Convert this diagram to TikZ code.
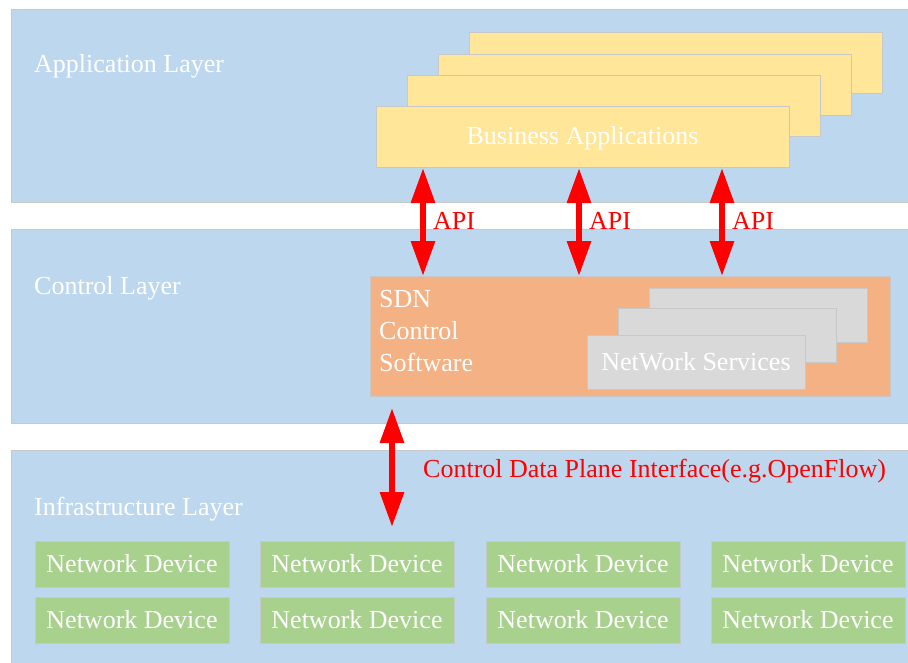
\documentclass[tikz,border=0pt]{standalone}
\usepackage{fontspec}
\setmainfont{Liberation Serif}
\usetikzlibrary{arrows.meta}

\definecolor{bandblue}{HTML}{BDD7EE}
\definecolor{edgegray}{HTML}{C8C8C8}
\definecolor{appyellow}{HTML}{FFE699}
\definecolor{sdnorange}{HTML}{F4B183}
\definecolor{svcgray}{HTML}{D9D9D9}
\definecolor{devgreen}{HTML}{A9D18E}

\tikzset{
  box/.style={draw=edgegray, line width=0.8pt, anchor=north west,
              inner sep=0pt, outer sep=0pt},
  lbl/.style={text=white, font=\fontsize{26}{31}\selectfont},
  plainlbl/.style={lbl, anchor=base west, inner sep=0pt},
  boxtext/.style={lbl, text height=18pt, text depth=2pt, align=center},
  redlbl/.style={text=red, font=\fontsize{26}{31}\selectfont,
                 anchor=base west, inner sep=0pt},
  biarrow/.style={red, line width=6pt,
                  {Triangle[length=35pt,width=23pt]}-{Triangle[length=35pt,width=23pt]}},
}

\begin{document}
\begin{tikzpicture}[x=1pt,y=-1pt]
  \useasboundingbox (0,0) rectangle (908,662);
  \fill[white] (0,0) rectangle (908,662);
  \clip (0,0) rectangle (908,662);

  % three layer bands
  \node[box, fill=bandblue, minimum width=904pt, minimum height=193pt] (app) at (11,9) {};
  \node[box, fill=bandblue, minimum width=904pt, minimum height=193.5pt] (ctl) at (11,229.5) {};
  \node[box, fill=bandblue, minimum width=904pt, minimum height=230pt] (infra) at (11,450) {};

  \node[plainlbl] (applbl) at (34,72.7) {Application Layer};
  \node[plainlbl] (ctllbl) at (34,294) {Control Layer};
  \node[plainlbl] (infralbl) at (34,515) {Infrastructure Layer};

  % stacked business applications
  \node[box, fill=appyellow, minimum width=413pt, minimum height=61pt] (ba4) at (469,32) {};
  \node[box, fill=appyellow, minimum width=413pt, minimum height=61pt] (ba3) at (438,54) {};
  \node[box, fill=appyellow, minimum width=413pt, minimum height=61pt] (ba2) at (407,75) {};
  \node[box, fill=appyellow, minimum width=413pt, minimum height=61pt, boxtext] (ba1) at (376,106) {Business Applications};

  % SDN control software with its services
  \node[box, fill=sdnorange, minimum width=520pt, minimum height=120pt] (sdn) at (370,276) {};
  \node[plainlbl] (sdnA) at (379,307.7) {SDN};
  \node[plainlbl] (sdnB) at (379,339) {Control};
  \node[plainlbl] (sdnC) at (379,371) {Software};

  \node[box, fill=svcgray, minimum width=218pt, minimum height=54pt] (ns3) at (649,288) {};
  \node[box, fill=svcgray, minimum width=218pt, minimum height=54pt] (ns2) at (618,308) {};
  \node[box, fill=svcgray, minimum width=218pt, minimum height=54pt, boxtext] (ns1) at (587,335) {NetWork Services};

  % network devices
  \foreach \x [count=\i] in {35,260,486,711} {
    \foreach \y [count=\j] in {541,597} {
      \node[box, fill=devgreen, minimum width=194pt, minimum height=46pt, boxtext]
        (dev\i\j) at (\x,\y) {Network Device};
    }
  }

  % northbound API arrows
  \coordinate (a1) at (423,0);
  \coordinate (a2) at (579,0);
  \coordinate (a3) at (722,0);
  \foreach \k in {1,2,3} {
    \draw[biarrow] ([yshift=-1pt]ba1.south -| a\k) -- (sdn.north -| a\k);
  }
  \node[redlbl] (api1) at (433,229) {API};
  \node[redlbl] (api2) at (589,229) {API};
  \node[redlbl] (api3) at (732,229) {API};

  % southbound interface arrow
  \coordinate (cdp) at (392,0);
  \draw[biarrow] ([yshift=-12pt]sdn.south -| cdp) -- ([yshift=14pt]dev21.north -| cdp);
  \node[redlbl] (cdplbl) at (423,477) {Control Data Plane Interface(e.g.OpenFlow)};
\end{tikzpicture}
\end{document}
